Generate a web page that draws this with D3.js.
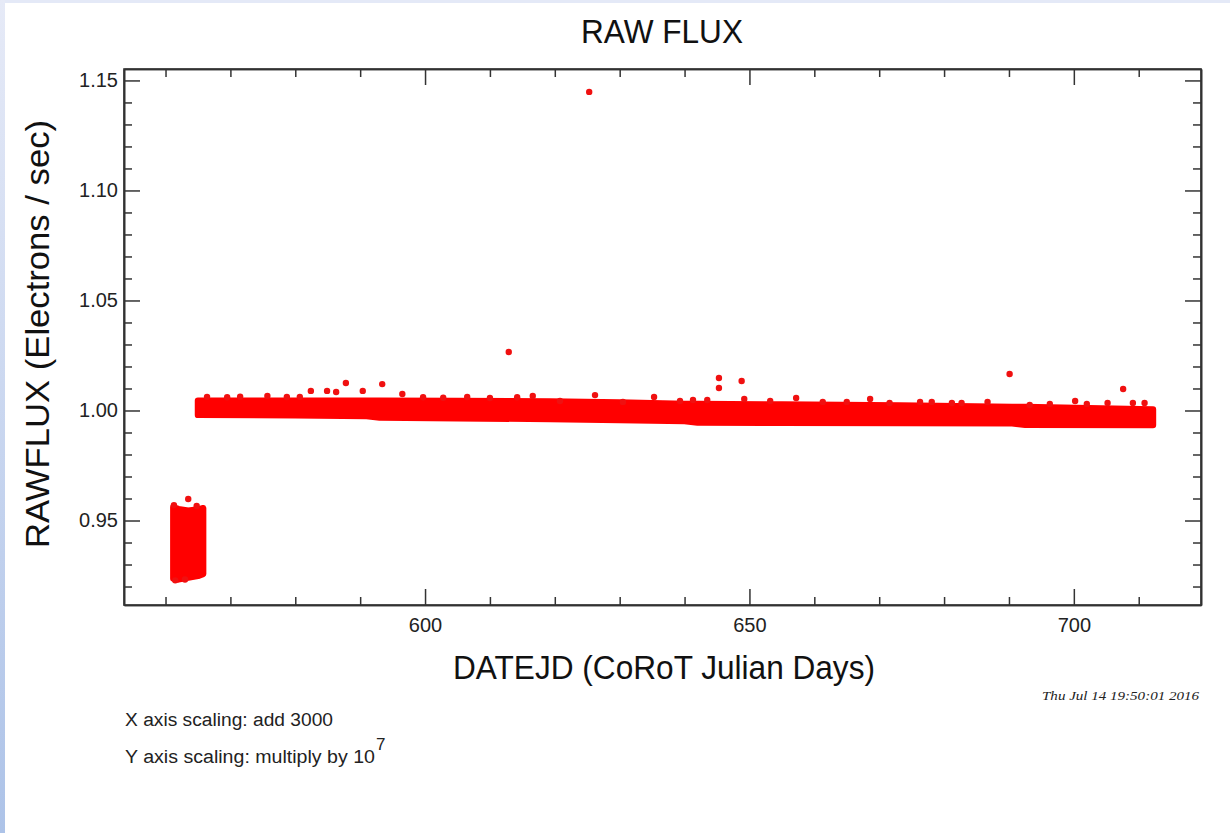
<!DOCTYPE html>
<html>
<head>
<meta charset="utf-8">
<script src="https://cdn.jsdelivr.net/npm/d3@7/dist/d3.min.js"></script>
<style>
  html, body { margin: 0; padding: 0; background: #fff; }
  svg { display: block; }
</style>
</head>
<body>
<svg id="chart" width="1230" height="833"></svg>
<script>
// ---------------- DATA ----------------
const xDomain = [553.6, 719.6];          // CoRoT Julian Days (minus 3000)
const yDomain = [0.9116, 1.1552];        // flux / 1e7
const xMajorTicks = [600, 650, 700];
const xMinorTicks = [560, 570, 580, 590, 610, 620, 630, 640, 660, 670, 680, 690, 710];
const yMajorTicks = [0.95, 1.00, 1.05, 1.10, 1.15];
const yMinorTicks = [0.92, 0.93, 0.94, 0.96, 0.97, 0.98, 0.99, 1.01, 1.02, 1.03, 1.04,
                     1.06, 1.07, 1.08, 1.09, 1.11, 1.12, 1.13, 1.14];

// dense main band: envelope of the point cloud
const bandDay = [565.0, 580.0, 591.0, 593.0, 605.0, 619.3, 630.0, 640.0, 642.0, 655.0, 673.2, 690.5, 692.5, 712.2];
const bandHi  = [1.0045, 1.0045, 1.0045, 1.0045, 1.0043, 1.0041, 1.0036, 1.0030, 1.0030, 1.0027, 1.0023, 1.0016, 1.0016, 1.0005];
const bandLo  = [0.9980, 0.9978, 0.9975, 0.9968, 0.9965, 0.9961, 0.9957, 0.9952, 0.9945, 0.9944, 0.9943, 0.9942, 0.9935, 0.9934];

// dense early cluster: envelope
const clusterDay = [561.2, 562.0, 563.5, 565.0, 565.8];
const clusterHi  = [0.9560, 0.9552, 0.9545, 0.9550, 0.9556];
const clusterLo  = [0.9236, 0.9232, 0.9240, 0.9248, 0.9257];

// individual points standing out of the clouds
const ptDay = [625.3, 612.9, 587.8, 593.4, 582.4, 584.9, 586.3, 590.4, 596.5, 616.6,
               645.3, 645.3, 648.8, 626.2, 635.3, 649.2, 653.2, 657.2, 668.6,
               690.1, 707.6, 678.1, 676.3, 700.2, 705.2, 710.9, 709.1, 671.6,
               566.4, 569.5, 571.5, 575.7, 578.7, 580.7, 599.7, 602.8, 606.5, 610.0, 614.2,
               620.8, 630.5, 639.3, 641.3, 643.5, 661.3, 665.0,
               681.2, 682.7, 686.7, 693.2, 696.3, 702.0,
               563.5, 561.3, 564.8, 561.5, 563.0];
const ptFlux = [1.1448, 1.0266, 1.0125, 1.0120, 1.0089, 1.0089, 1.0084, 1.0089, 1.0075, 1.0066,
                1.0148, 1.0102, 1.0134, 1.0070, 1.0061, 1.0052, 1.0043, 1.0057, 1.0052,
                1.0166, 1.0098, 1.0039, 1.0039, 1.0043, 1.0034, 1.0034, 1.0034, 1.0034,
                1.0062, 1.0060, 1.0063, 1.0066, 1.0061, 1.0062, 1.0060, 1.0058, 1.0061, 1.0057, 1.0060,
                1.0043, 1.0039, 1.0043, 1.0048, 1.0048, 1.0039, 1.0039,
                1.0034, 1.0034, 1.0039, 1.0025, 1.0030, 1.0030,
                0.9598, 0.9570, 0.9566, 0.9228, 0.9232];

// texts
const titleText = "RAW FLUX";
const xLabelText = "DATEJD (CoRoT Julian Days)";
const yLabelText = "RAWFLUX (Electrons / sec)";
const note1 = "X axis scaling: add 3000";
const note2 = "Y axis scaling: multiply by 10";
const note2Exp = "7";
const stampText = "Thu Jul 14 19:50:01 2016";

// ---------------- DRAWING ----------------
(function draw() {
const svg = d3.select("#chart");
const W = 1230, H = 833;
const pL = 124, pR = 1201, pT = 69, pB = 605;
const red = "#ff0000";
const axisColor = "#333";
const sans = "'Liberation Sans', Arial, Helvetica, sans-serif";

// page frame (light blue strips)
const grad = svg.append("defs").append("linearGradient")
  .attr("id", "lg").attr("x1", 0).attr("y1", 0).attr("x2", 0).attr("y2", 1);
grad.append("stop").attr("offset", "0%").attr("stop-color", "#e6eaf7");
grad.append("stop").attr("offset", "100%").attr("stop-color", "#adc3e8");
svg.append("rect").attr("x", 0).attr("y", 0).attr("width", W).attr("height", H).attr("fill", "#fff");
svg.append("rect").attr("x", 0).attr("y", 0).attr("width", W).attr("height", 3).attr("fill", "#e4e9f7");
svg.append("rect").attr("x", 0).attr("y", 0).attr("width", 5).attr("height", H).attr("fill", "url(#lg)");

const x = d3.scaleLinear().domain(xDomain).range([pL, pR]);
const y = d3.scaleLinear().domain(yDomain).range([pB, pT]);

// data marks
const band = bandDay.map((d, i) => ({ d, hi: bandHi[i], lo: bandLo[i] }));
const cluster = clusterDay.map((d, i) => ({ d, hi: clusterHi[i], lo: clusterLo[i] }));
const area = d3.area().x(p => x(p.d)).y0(p => y(p.lo)).y1(p => y(p.hi));

const marks = svg.append("g");
[band, cluster].forEach(set => {
  marks.append("path").datum(set).attr("d", area)
    .attr("fill", red).attr("stroke", red).attr("stroke-width", 6.4)
    .attr("stroke-linejoin", "round");
});
const pts = ptDay.map((d, i) => ({ d, f: ptFlux[i] }));
marks.selectAll("circle.pt").data(pts).join("circle")
  .attr("class", "pt")
  .attr("cx", p => x(p.d)).attr("cy", p => y(p.f)).attr("r", 3.2)
  .attr("fill", "#f01010");

// axes
function styleAxis(g) {
  g.selectAll("path.domain").attr("stroke", axisColor).attr("stroke-width", 1.6);
  g.selectAll(".tick line").attr("stroke", axisColor).attr("stroke-width", 1.5);
  g.selectAll("text").attr("font-family", sans).attr("font-size", 20).attr("fill", "#222");
}
const fmtY = d3.format(".2f");
const noLab = () => "";

// bottom
svg.append("g").attr("transform", `translate(0,${pB})`)
  .call(d3.axisBottom(x).tickValues(xMinorTicks).tickSizeInner(-8).tickSizeOuter(0).tickFormat(noLab)).call(styleAxis);
svg.append("g").attr("transform", `translate(0,${pB})`)
  .call(d3.axisBottom(x).tickValues(xMajorTicks).tickSizeInner(-16).tickSizeOuter(0).tickPadding(13).tickFormat(d3.format("d"))).call(styleAxis);
// top
svg.append("g").attr("transform", `translate(0,${pT})`)
  .call(d3.axisTop(x).tickValues(xMinorTicks).tickSizeInner(-8).tickSizeOuter(0).tickFormat(noLab)).call(styleAxis);
svg.append("g").attr("transform", `translate(0,${pT})`)
  .call(d3.axisTop(x).tickValues(xMajorTicks).tickSizeInner(-16).tickSizeOuter(0).tickFormat(noLab)).call(styleAxis);
// left
svg.append("g").attr("transform", `translate(${pL},0)`)
  .call(d3.axisLeft(y).tickValues(yMinorTicks).tickSizeInner(-8).tickSizeOuter(0).tickFormat(noLab)).call(styleAxis);
svg.append("g").attr("transform", `translate(${pL},0)`)
  .call(d3.axisLeft(y).tickValues(yMajorTicks).tickSizeInner(-16).tickSizeOuter(0).tickPadding(6).tickFormat(fmtY)).call(styleAxis);
// right
svg.append("g").attr("transform", `translate(${pR},0)`)
  .call(d3.axisRight(y).tickValues(yMinorTicks).tickSizeInner(-8).tickSizeOuter(0).tickFormat(noLab)).call(styleAxis);
svg.append("g").attr("transform", `translate(${pR},0)`)
  .call(d3.axisRight(y).tickValues(yMajorTicks).tickSizeInner(-16).tickSizeOuter(0).tickFormat(noLab)).call(styleAxis);

// squared frame corners
svg.append("rect").attr("x", pL).attr("y", pT).attr("width", pR - pL).attr("height", pB - pT)
  .attr("fill", "none").attr("stroke", axisColor).attr("stroke-width", 1.6);

// titles
svg.append("text").text(titleText)
  .attr("x", 662).attr("y", 43).attr("text-anchor", "middle")
  .attr("font-family", sans).attr("font-size", 33).attr("fill", "#111")
  .attr("textLength", 162).attr("lengthAdjust", "spacingAndGlyphs");

svg.append("text").text(xLabelText)
  .attr("x", 664).attr("y", 679).attr("text-anchor", "middle")
  .attr("font-family", sans).attr("font-size", 33).attr("fill", "#111")
  .attr("textLength", 422).attr("lengthAdjust", "spacingAndGlyphs");

svg.append("text").text(yLabelText)
  .attr("transform", "translate(49,334) rotate(-90)").attr("text-anchor", "middle")
  .attr("font-family", sans).attr("font-size", 33).attr("fill", "#111")
  .attr("textLength", 428).attr("lengthAdjust", "spacingAndGlyphs");

// notes
svg.append("text").text(note1)
  .attr("x", 125).attr("y", 726)
  .attr("font-family", sans).attr("font-size", 18).attr("fill", "#222")
  .attr("textLength", 208).attr("lengthAdjust", "spacingAndGlyphs");
svg.append("text").text(note2)
  .attr("x", 125).attr("y", 763)
  .attr("font-family", sans).attr("font-size", 18).attr("fill", "#222")
  .attr("textLength", 250).attr("lengthAdjust", "spacingAndGlyphs");
svg.append("text").text(note2Exp)
  .attr("x", 376).attr("y", 750)
  .attr("font-family", sans).attr("font-size", 17).attr("fill", "#222");

svg.append("text").text(stampText)
  .attr("x", 1042).attr("y", 700)
  .attr("font-family", "'Liberation Serif', 'Times New Roman', serif")
  .attr("font-style", "italic")
  .attr("font-size", 13).attr("fill", "#222")
  .attr("textLength", 157).attr("lengthAdjust", "spacingAndGlyphs");
})();
</script>
</body>
</html>
